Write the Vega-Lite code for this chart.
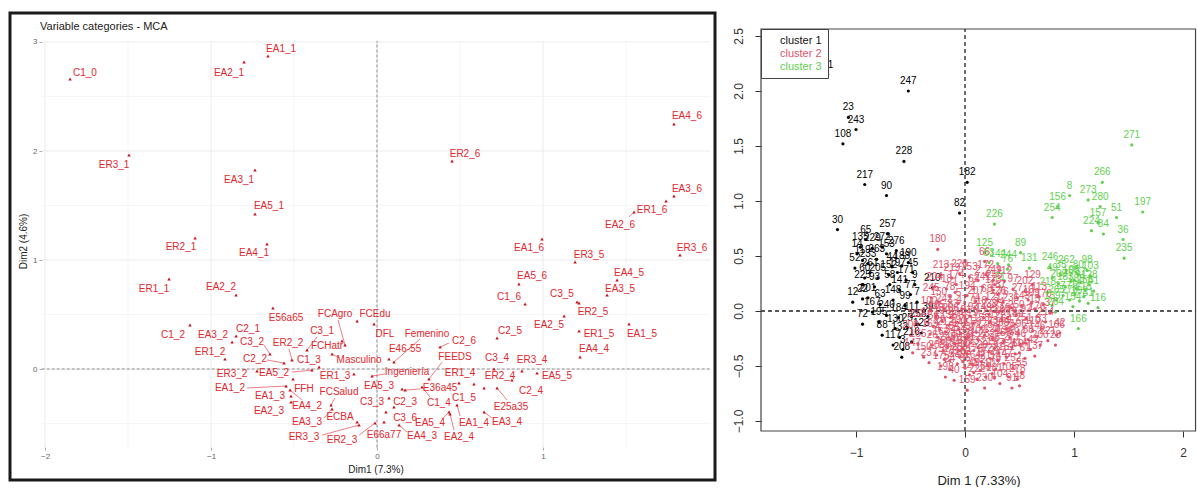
{
  "$schema": "https://vega.github.io/schema/vega-lite/v6.json",
  "background": "white",
  "padding": {"left": 8, "top": 11, "right": 0, "bottom": 0},
  "config": {
    "view": {"stroke": null},
    "font": "Liberation Sans",
    "axis": {"labelFont": "Liberation Sans", "titleFont": "Liberation Sans"},
    "legend": {"labelFont": "Liberation Sans"}
  },
  "spacing": 14,
  "resolve": {"scale": {"color": "independent"}, "legend": {"color": "independent"}},
  "datasets": {
    "gx": [
      {"v": -2, "m": "major"}, {"v": -1, "m": "major"}, {"v": 0, "m": "major"}, {"v": 1, "m": "major"},
      {"v": -1.5, "m": "minor"}, {"v": -0.5, "m": "minor"}, {"v": 0.5, "m": "minor"}, {"v": 1.5, "m": "minor"}
    ],
    "gy": [
      {"v": 0, "m": "major"}, {"v": 1, "m": "major"}, {"v": 2, "m": "major"}, {"v": 3, "m": "major"},
      {"v": -0.5, "m": "minor"}, {"v": 0.5, "m": "minor"}, {"v": 1.5, "m": "minor"}, {"v": 2.5, "m": "minor"}
    ],
    "mca": [
      {"l": "C1_0", "x": -1.849, "y": 2.661, "lx": -1.76, "ly": 2.72},
      {"l": "EA2_1", "x": -0.801, "y": 2.817, "lx": -0.892, "ly": 2.716},
      {"l": "EA1_1", "x": -0.657, "y": 2.872, "lx": -0.578, "ly": 2.936},
      {"l": "ER3_1", "x": -1.494, "y": 1.963, "lx": -1.584, "ly": 1.872},
      {"l": "EA3_1", "x": -0.735, "y": 1.826, "lx": -0.831, "ly": 1.734},
      {"l": "EA5_1", "x": -0.735, "y": 1.422, "lx": -0.651, "ly": 1.495},
      {"l": "ER2_1", "x": -1.096, "y": 1.202, "lx": -1.181, "ly": 1.119},
      {"l": "EA4_1", "x": -0.663, "y": 1.147, "lx": -0.741, "ly": 1.064},
      {"l": "ER1_1", "x": -1.253, "y": 0.826, "lx": -1.343, "ly": 0.734},
      {"l": "EA2_2", "x": -0.849, "y": 0.679, "lx": -0.94, "ly": 0.752},
      {"l": "E56a65", "x": -0.627, "y": 0.56, "lx": -0.548, "ly": 0.468},
      {"l": "C1_2", "x": -1.127, "y": 0.404, "lx": -1.229, "ly": 0.312},
      {"l": "EA3_2", "x": -0.873, "y": 0.248, "lx": -0.988, "ly": 0.312},
      {"l": "C2_1", "x": -0.849, "y": 0.303, "lx": -0.777, "ly": 0.367},
      {"l": "C3_2", "x": -0.645, "y": 0.138, "lx": -0.753, "ly": 0.248, "sx": -0.681, "sy": 0.22},
      {"l": "ER2_2", "x": -0.512, "y": 0.083, "lx": -0.536, "ly": 0.239, "sx": -0.53, "sy": 0.183},
      {"l": "ER1_2", "x": -0.916, "y": 0.092, "lx": -1.006, "ly": 0.156},
      {"l": "C2_2", "x": -0.56, "y": 0.055, "lx": -0.735, "ly": 0.092, "sx": -0.663, "sy": 0.083},
      {"l": "C3_1", "x": -0.422, "y": 0.174, "lx": -0.331, "ly": 0.349, "sx": -0.361, "sy": 0.294},
      {"l": "FCAgro", "x": -0.193, "y": 0.22, "lx": -0.253, "ly": 0.505, "sx": -0.235, "sy": 0.45},
      {"l": "FCEdu", "x": -0.12, "y": 0.44, "lx": -0.012, "ly": 0.505},
      {"l": "FCHatr", "x": -0.211, "y": 0.257, "lx": -0.301, "ly": 0.211},
      {"l": "Masculino", "x": -0.271, "y": 0.138, "lx": -0.108, "ly": 0.083, "sx": -0.229, "sy": 0.101},
      {"l": "DFL", "x": -0.018, "y": 0.413, "lx": 0.048, "ly": 0.321},
      {"l": "Femenino", "x": 0.102, "y": 0.064, "lx": 0.301, "ly": 0.321, "sx": 0.259, "sy": 0.275},
      {"l": "E46-55", "x": 0.072, "y": 0.092, "lx": 0.169, "ly": 0.183},
      {"l": "Ingeniería", "x": -0.03, "y": -0.064, "lx": 0.181, "ly": -0.028, "sx": 0.048, "sy": -0.046},
      {"l": "ER1_3", "x": -0.139, "y": -0.046, "lx": -0.253, "ly": -0.064},
      {"l": "C1_3", "x": -0.349, "y": 0.018, "lx": -0.41, "ly": 0.083},
      {"l": "EA5_2", "x": -0.392, "y": -0.009, "lx": -0.62, "ly": -0.037, "sx": -0.512, "sy": -0.028},
      {"l": "ER3_2", "x": -0.723, "y": -0.018, "lx": -0.873, "ly": -0.046},
      {"l": "EA1_2", "x": -0.548, "y": -0.156, "lx": -0.886, "ly": -0.174, "sx": -0.783, "sy": -0.174},
      {"l": "FFH", "x": -0.506, "y": -0.092, "lx": -0.44, "ly": -0.183},
      {"l": "EA1_3", "x": -0.518, "y": -0.248, "lx": -0.645, "ly": -0.248},
      {"l": "EA4_2", "x": -0.524, "y": -0.193, "lx": -0.422, "ly": -0.339, "sx": -0.452, "sy": -0.284},
      {"l": "EA2_3", "x": -0.518, "y": -0.303, "lx": -0.651, "ly": -0.385},
      {"l": "FCSalud", "x": -0.277, "y": -0.33, "lx": -0.229, "ly": -0.211, "sx": -0.253, "sy": -0.266},
      {"l": "EA3_3", "x": -0.271, "y": -0.367, "lx": -0.422, "ly": -0.486, "sx": -0.319, "sy": -0.45},
      {"l": "ECBA", "x": -0.12, "y": -0.486, "lx": -0.223, "ly": -0.44},
      {"l": "ER3_3", "x": -0.108, "y": -0.514, "lx": -0.44, "ly": -0.624, "sx": -0.331, "sy": -0.606},
      {"l": "ER2_3", "x": -0.012, "y": -0.495, "lx": -0.211, "ly": -0.651, "sx": -0.108, "sy": -0.606},
      {"l": "E66a77", "x": 0.042, "y": -0.486, "lx": 0.042, "ly": -0.606},
      {"l": "C3_6", "x": 0.054, "y": -0.394, "lx": 0.169, "ly": -0.45},
      {"l": "C3_3", "x": 0.072, "y": -0.266, "lx": -0.03, "ly": -0.303},
      {"l": "C2_3", "x": 0.102, "y": -0.349, "lx": 0.169, "ly": -0.303},
      {"l": "EA5_3", "x": 0.151, "y": -0.183, "lx": 0.012, "ly": -0.156},
      {"l": "E36a45", "x": 0.169, "y": -0.193, "lx": 0.38, "ly": -0.174, "sx": 0.259, "sy": -0.183},
      {"l": "C1_4", "x": 0.271, "y": -0.165, "lx": 0.373, "ly": -0.312, "sx": 0.319, "sy": -0.257},
      {"l": "EA4_3", "x": 0.133, "y": -0.514, "lx": 0.271, "ly": -0.615, "sx": 0.181, "sy": -0.578},
      {"l": "EA5_4", "x": 0.434, "y": -0.394, "lx": 0.319, "ly": -0.495, "sx": 0.392, "sy": -0.459},
      {"l": "EA2_4", "x": 0.44, "y": -0.413, "lx": 0.494, "ly": -0.624, "sx": 0.464, "sy": -0.56},
      {"l": "EA1_4", "x": 0.482, "y": -0.33, "lx": 0.584, "ly": -0.495, "sx": 0.5, "sy": -0.431},
      {"l": "ER1_4", "x": 0.494, "y": -0.128, "lx": 0.5, "ly": -0.037},
      {"l": "C1_5", "x": 0.584, "y": -0.138, "lx": 0.524, "ly": -0.266},
      {"l": "C2_6", "x": 0.38, "y": 0.202, "lx": 0.524, "ly": 0.257, "sx": 0.434, "sy": 0.239},
      {"l": "FEEDS", "x": 0.313, "y": -0.092, "lx": 0.47, "ly": 0.11, "sx": 0.392, "sy": 0.064},
      {"l": "EA3_4", "x": 0.645, "y": -0.394, "lx": 0.783, "ly": -0.486, "sx": 0.693, "sy": -0.45},
      {"l": "E25a35", "x": 0.723, "y": -0.174, "lx": 0.807, "ly": -0.349, "sx": 0.783, "sy": -0.284},
      {"l": "C2_4", "x": 0.645, "y": -0.174, "lx": 0.928, "ly": -0.202},
      {"l": "ER2_4", "x": 0.813, "y": -0.101, "lx": 0.741, "ly": -0.064},
      {"l": "C3_4", "x": 0.705, "y": 0.0, "lx": 0.723, "ly": 0.101},
      {"l": "ER3_4", "x": 0.873, "y": -0.018, "lx": 0.934, "ly": 0.083},
      {"l": "EA5_5", "x": 0.964, "y": -0.037, "lx": 1.084, "ly": -0.064},
      {"l": "C2_5", "x": 0.723, "y": 0.284, "lx": 0.801, "ly": 0.349},
      {"l": "EA2_5", "x": 1.127, "y": 0.486, "lx": 1.036, "ly": 0.404},
      {"l": "EA4_4", "x": 1.223, "y": 0.11, "lx": 1.307, "ly": 0.183},
      {"l": "ER1_5", "x": 1.217, "y": 0.349, "lx": 1.337, "ly": 0.321},
      {"l": "EA1_5", "x": 1.518, "y": 0.413, "lx": 1.596, "ly": 0.321},
      {"l": "ER2_5", "x": 1.217, "y": 0.606, "lx": 1.301, "ly": 0.523},
      {"l": "C3_5", "x": 1.205, "y": 0.615, "lx": 1.114, "ly": 0.688},
      {"l": "C1_6", "x": 0.892, "y": 0.596, "lx": 0.795, "ly": 0.661},
      {"l": "EA3_5", "x": 1.386, "y": 0.679, "lx": 1.464, "ly": 0.734},
      {"l": "EA4_5", "x": 1.446, "y": 0.817, "lx": 1.518, "ly": 0.881},
      {"l": "EA5_6", "x": 0.855, "y": 0.78, "lx": 0.934, "ly": 0.853},
      {"l": "ER3_5", "x": 1.193, "y": 0.982, "lx": 1.277, "ly": 1.046},
      {"l": "EA1_6", "x": 0.994, "y": 1.193, "lx": 0.916, "ly": 1.11},
      {"l": "ER3_6", "x": 1.825, "y": 1.046, "lx": 1.898, "ly": 1.11},
      {"l": "EA2_6", "x": 1.548, "y": 1.44, "lx": 1.464, "ly": 1.321, "sx": 1.518, "sy": 1.394},
      {"l": "ER1_6", "x": 1.741, "y": 1.541, "lx": 1.657, "ly": 1.459},
      {"l": "EA3_6", "x": 1.789, "y": 1.587, "lx": 1.867, "ly": 1.651},
      {"l": "EA4_6", "x": 1.789, "y": 2.248, "lx": 1.867, "ly": 2.321},
      {"l": "ER2_6", "x": 0.452, "y": 1.908, "lx": 0.53, "ly": 1.972}
    ],
    "ind": [
      {"x": -1.26, "y": 2.15, "c": 1, "id": "21"},
      {"x": -0.52, "y": 2.0, "c": 1, "id": "247"},
      {"x": -1.07, "y": 1.76, "c": 1, "id": "23"},
      {"x": -1.0, "y": 1.65, "c": 1, "id": "243"},
      {"x": -1.12, "y": 1.52, "c": 1, "id": "108"},
      {"x": -0.56, "y": 1.36, "c": 1, "id": "228"},
      {"x": -0.92, "y": 1.15, "c": 1, "id": "217"},
      {"x": -0.72, "y": 1.05, "c": 1, "id": "90"},
      {"x": 0.02, "y": 1.17, "c": 1, "id": "182"},
      {"x": -0.05, "y": 0.89, "c": 1, "id": "82"},
      {"x": -1.17, "y": 0.74, "c": 1, "id": "30"},
      {"x": -0.71, "y": 0.7, "c": 1, "id": "257"},
      {"x": -0.91, "y": 0.65, "c": 1, "id": "65"},
      {"x": -0.96, "y": 0.58, "c": 1, "id": "135"},
      {"x": -0.85, "y": 0.57, "c": 1, "id": "229"},
      {"x": -0.76, "y": 0.58, "c": 1, "id": "272"},
      {"x": -0.63, "y": 0.55, "c": 1, "id": "276"},
      {"x": -0.72, "y": 0.52, "c": 1, "id": "153"},
      {"x": -0.99, "y": 0.52, "c": 1, "id": "14"},
      {"x": -0.94, "y": 0.46, "c": 1, "id": "119"},
      {"x": -0.89, "y": 0.43, "c": 1, "id": "233"},
      {"x": -0.48, "y": 0.35, "c": 1, "id": "45"},
      {"x": -0.3, "y": 0.21, "c": 1, "id": "210"},
      {"x": -0.58, "y": 0.41, "c": 1, "id": "188"},
      {"x": -1.01, "y": 0.39, "c": 1, "id": "52"},
      {"x": -0.87, "y": 0.35, "c": 1, "id": "261"},
      {"x": -0.62, "y": 0.35, "c": 1, "id": "197"},
      {"x": -0.54, "y": 0.28, "c": 1, "id": "171"},
      {"x": -0.94, "y": 0.24, "c": 1, "id": "225"},
      {"x": -0.83, "y": 0.22, "c": 1, "id": "93"},
      {"x": -0.69, "y": 0.24, "c": 1, "id": "58"},
      {"x": -0.6, "y": 0.19, "c": 1, "id": "141"},
      {"x": -0.5, "y": 0.15, "c": 1, "id": "77"},
      {"x": -1.03, "y": 0.08, "c": 1, "id": "12"},
      {"x": -0.89, "y": 0.12, "c": 1, "id": "201"},
      {"x": -0.78, "y": 0.06, "c": 1, "id": "63"},
      {"x": -0.66, "y": 0.1, "c": 1, "id": "148"},
      {"x": -0.55, "y": 0.05, "c": 1, "id": "99"},
      {"x": -0.44, "y": 0.08, "c": 1, "id": "7"},
      {"x": -0.34, "y": -0.05, "c": 1, "id": "39"},
      {"x": -0.85, "y": -0.01, "c": 1, "id": "167"},
      {"x": -0.72, "y": -0.04, "c": 1, "id": "240"},
      {"x": -0.61, "y": -0.06, "c": 1, "id": "184"},
      {"x": -0.49, "y": -0.05, "c": 1, "id": "111"},
      {"x": -0.94, "y": -0.12, "c": 1, "id": "72"},
      {"x": -0.79, "y": -0.1, "c": 1, "id": "195"},
      {"x": -0.64, "y": -0.16, "c": 1, "id": "130"},
      {"x": -0.53, "y": -0.15, "c": 1, "id": "25"},
      {"x": -0.43, "y": -0.12, "c": 1, "id": "258"},
      {"x": -0.76, "y": -0.22, "c": 1, "id": "88"},
      {"x": -0.6, "y": -0.24, "c": 1, "id": "132"},
      {"x": -0.57, "y": -0.35, "c": 1, "id": "3"},
      {"x": -0.49, "y": -0.28, "c": 1, "id": "216"},
      {"x": -0.66, "y": -0.31, "c": 1, "id": "117"},
      {"x": -0.8, "y": 0.3, "c": 1, "id": "205"},
      {"x": -0.67, "y": 0.4, "c": 1, "id": "44"},
      {"x": -0.52, "y": 0.44, "c": 1, "id": "190"},
      {"x": -0.81, "y": 0.47, "c": 1, "id": "263"},
      {"x": -0.7, "y": 0.33, "c": 1, "id": "152"},
      {"x": -0.46, "y": 0.24, "c": 1, "id": "9"},
      {"x": -0.4, "y": -0.2, "c": 1, "id": "123"},
      {"x": -0.92, "y": 0.3, "c": 1, "id": "60"},
      {"x": -0.58, "y": -0.42, "c": 1, "id": "208"},
      {"x": -0.94, "y": 0.11, "c": 1, "id": "22"},

      {"x": -0.22, "y": 0.33, "c": 2, "id": "213"},
      {"x": -0.12, "y": 0.3, "c": 2, "id": "219"},
      {"x": -0.05, "y": 0.34, "c": 2, "id": "220"},
      {"x": 0.04, "y": 0.31, "c": 2, "id": "253"},
      {"x": 0.12, "y": 0.28, "c": 2, "id": "2"},
      {"x": 0.19, "y": 0.33, "c": 2, "id": "172"},
      {"x": 0.27, "y": 0.24, "c": 2, "id": "255"},
      {"x": 0.36, "y": 0.27, "c": 2, "id": "112"},
      {"x": 0.44, "y": 0.2, "c": 2, "id": "97"},
      {"x": 0.55, "y": 0.18, "c": 2, "id": "202"},
      {"x": 0.62, "y": 0.24, "c": 2, "id": "129"},
      {"x": -0.28, "y": 0.22, "c": 2, "id": "204"},
      {"x": -0.17, "y": 0.2, "c": 2, "id": "18"},
      {"x": -0.08, "y": 0.24, "c": 2, "id": "174"},
      {"x": 0.08, "y": 0.2, "c": 2, "id": "62"},
      {"x": 0.16, "y": 0.22, "c": 2, "id": "241"},
      {"x": 0.3, "y": 0.15, "c": 2, "id": "187"},
      {"x": 0.48, "y": 0.12, "c": 2, "id": "27"},
      {"x": 0.58, "y": 0.1, "c": 2, "id": "10"},
      {"x": 0.68, "y": 0.13, "c": 2, "id": "113"},
      {"x": -0.31, "y": 0.12, "c": 2, "id": "245"},
      {"x": -0.24, "y": 0.08, "c": 2, "id": "150"},
      {"x": -0.14, "y": 0.13, "c": 2, "id": "78"},
      {"x": -0.06, "y": 0.07, "c": 2, "id": "5"},
      {"x": 0.02, "y": 0.14, "c": 2, "id": "194"},
      {"x": 0.1, "y": 0.09, "c": 2, "id": "207"},
      {"x": 0.2, "y": 0.11, "c": 2, "id": "68"},
      {"x": 0.26, "y": 0.04, "c": 2, "id": "121"},
      {"x": 0.35, "y": 0.08, "c": 2, "id": "76"},
      {"x": 0.42, "y": 0.03, "c": 2, "id": "236"},
      {"x": 0.52, "y": 0.05, "c": 2, "id": "143"},
      {"x": 0.64, "y": 0.02, "c": 2, "id": "15"},
      {"x": 0.72, "y": 0.06, "c": 2, "id": "170"},
      {"x": 0.78, "y": -0.02, "c": 2, "id": "37"},
      {"x": -0.33, "y": 0.0, "c": 2, "id": "100"},
      {"x": -0.26, "y": -0.04, "c": 2, "id": "165"},
      {"x": -0.19, "y": 0.02, "c": 2, "id": "242"},
      {"x": -0.11, "y": -0.03, "c": 2, "id": "83"},
      {"x": -0.03, "y": 0.01, "c": 2, "id": "47"},
      {"x": 0.05, "y": -0.05, "c": 2, "id": "193"},
      {"x": 0.13, "y": 0.0, "c": 2, "id": "118"},
      {"x": 0.22, "y": -0.03, "c": 2, "id": "238"},
      {"x": 0.31, "y": -0.01, "c": 2, "id": "34"},
      {"x": 0.39, "y": -0.06, "c": 2, "id": "161"},
      {"x": 0.47, "y": -0.04, "c": 2, "id": "250"},
      {"x": 0.56, "y": -0.07, "c": 2, "id": "92"},
      {"x": 0.66, "y": -0.05, "c": 2, "id": "176"},
      {"x": 0.74, "y": -0.1, "c": 2, "id": "214"},
      {"x": -0.35, "y": -0.1, "c": 2, "id": "13"},
      {"x": -0.29, "y": -0.14, "c": 2, "id": "56"},
      {"x": -0.21, "y": -0.09, "c": 2, "id": "199"},
      {"x": -0.15, "y": -0.13, "c": 2, "id": "138"},
      {"x": -0.08, "y": -0.1, "c": 2, "id": "231"},
      {"x": -0.01, "y": -0.14, "c": 2, "id": "86"},
      {"x": 0.07, "y": -0.11, "c": 2, "id": "19"},
      {"x": 0.15, "y": -0.15, "c": 2, "id": "158"},
      {"x": 0.23, "y": -0.1, "c": 2, "id": "274"},
      {"x": 0.3, "y": -0.13, "c": 2, "id": "122"},
      {"x": 0.38, "y": -0.16, "c": 2, "id": "64"},
      {"x": 0.46, "y": -0.12, "c": 2, "id": "189"},
      {"x": 0.54, "y": -0.15, "c": 2, "id": "251"},
      {"x": 0.62, "y": -0.18, "c": 2, "id": "110"},
      {"x": 0.7, "y": -0.16, "c": 2, "id": "33"},
      {"x": -0.32, "y": -0.21, "c": 2, "id": "169"},
      {"x": -0.25, "y": -0.24, "c": 2, "id": "4"},
      {"x": -0.18, "y": -0.19, "c": 2, "id": "212"},
      {"x": -0.1, "y": -0.23, "c": 2, "id": "94"},
      {"x": -0.04, "y": -0.2, "c": 2, "id": "145"},
      {"x": 0.03, "y": -0.24, "c": 2, "id": "237"},
      {"x": 0.1, "y": -0.19, "c": 2, "id": "50"},
      {"x": 0.18, "y": -0.22, "c": 2, "id": "178"},
      {"x": 0.25, "y": -0.25, "c": 2, "id": "120"},
      {"x": 0.33, "y": -0.2, "c": 2, "id": "268"},
      {"x": 0.41, "y": -0.24, "c": 2, "id": "75"},
      {"x": 0.49, "y": -0.21, "c": 2, "id": "196"},
      {"x": 0.58, "y": -0.26, "c": 2, "id": "38"},
      {"x": 0.66, "y": -0.23, "c": 2, "id": "146"},
      {"x": 0.76, "y": -0.27, "c": 2, "id": "221"},
      {"x": 0.84, "y": -0.22, "c": 2, "id": "106"},
      {"x": -0.3, "y": -0.31, "c": 2, "id": "26"},
      {"x": -0.22, "y": -0.28, "c": 2, "id": "162"},
      {"x": -0.16, "y": -0.33, "c": 2, "id": "248"},
      {"x": -0.09, "y": -0.3, "c": 2, "id": "70"},
      {"x": -0.02, "y": -0.34, "c": 2, "id": "186"},
      {"x": 0.05, "y": -0.29, "c": 2, "id": "11"},
      {"x": 0.12, "y": -0.33, "c": 2, "id": "127"},
      {"x": 0.2, "y": -0.3, "c": 2, "id": "232"},
      {"x": 0.27, "y": -0.34, "c": 2, "id": "85"},
      {"x": 0.35, "y": -0.29, "c": 2, "id": "155"},
      {"x": 0.43, "y": -0.33, "c": 2, "id": "277"},
      {"x": 0.51, "y": -0.3, "c": 2, "id": "46"},
      {"x": 0.6, "y": -0.35, "c": 2, "id": "142"},
      {"x": 0.69, "y": -0.31, "c": 2, "id": "200"},
      {"x": 0.83, "y": -0.31, "c": 2, "id": "28"},
      {"x": -0.26, "y": -0.4, "c": 2, "id": "203"},
      {"x": -0.19, "y": -0.44, "c": 2, "id": "57"},
      {"x": -0.12, "y": -0.38, "c": 2, "id": "134"},
      {"x": -0.05, "y": -0.42, "c": 2, "id": "269"},
      {"x": 0.02, "y": -0.39, "c": 2, "id": "101"},
      {"x": 0.09, "y": -0.44, "c": 2, "id": "179"},
      {"x": 0.16, "y": -0.4, "c": 2, "id": "20"},
      {"x": 0.23, "y": -0.43, "c": 2, "id": "223"},
      {"x": 0.31, "y": -0.38, "c": 2, "id": "87"},
      {"x": 0.38, "y": -0.42, "c": 2, "id": "151"},
      {"x": 0.46, "y": -0.39, "c": 2, "id": "260"},
      {"x": 0.55, "y": -0.43, "c": 2, "id": "61"},
      {"x": 0.64, "y": -0.41, "c": 2, "id": "137"},
      {"x": -0.22, "y": -0.5, "c": 2, "id": "175"},
      {"x": -0.14, "y": -0.53, "c": 2, "id": "24"},
      {"x": -0.07, "y": -0.48, "c": 2, "id": "239"},
      {"x": 0.0, "y": -0.52, "c": 2, "id": "96"},
      {"x": 0.07, "y": -0.49, "c": 2, "id": "164"},
      {"x": 0.14, "y": -0.54, "c": 2, "id": "32"},
      {"x": 0.21, "y": -0.5, "c": 2, "id": "211"},
      {"x": 0.28, "y": -0.53, "c": 2, "id": "79"},
      {"x": 0.36, "y": -0.48, "c": 2, "id": "147"},
      {"x": 0.44, "y": -0.52, "c": 2, "id": "252"},
      {"x": 0.52, "y": -0.56, "c": 2, "id": "55"},
      {"x": -0.18, "y": -0.6, "c": 2, "id": "198"},
      {"x": -0.1, "y": -0.63, "c": 2, "id": "40"},
      {"x": 0.04, "y": -0.58, "c": 2, "id": "124"},
      {"x": 0.11, "y": -0.62, "c": 2, "id": "222"},
      {"x": 0.19, "y": -0.6, "c": 2, "id": "69"},
      {"x": 0.27, "y": -0.61, "c": 2, "id": "181"},
      {"x": 0.4, "y": -0.6, "c": 2, "id": "105"},
      {"x": 0.48, "y": -0.62, "c": 2, "id": "278"},
      {"x": 0.32, "y": -0.66, "c": 2, "id": "104"},
      {"x": 0.02, "y": -0.72, "c": 2, "id": "159"},
      {"x": 0.18, "y": -0.7, "c": 2, "id": "230"},
      {"x": 0.43, "y": -0.7, "c": 2, "id": "91"},
      {"x": 0.5, "y": -0.68, "c": 2, "id": "48"},
      {"x": -0.27, "y": -0.06, "c": 2, "id": "140"},
      {"x": -0.13, "y": -0.06, "c": 2, "id": "206"},
      {"x": 0.01, "y": -0.08, "c": 2, "id": "81"},
      {"x": 0.17, "y": -0.06, "c": 2, "id": "149"},
      {"x": 0.34, "y": -0.08, "c": 2, "id": "267"},
      {"x": -0.23, "y": -0.17, "c": 2, "id": "29"},
      {"x": -0.06, "y": -0.17, "c": 2, "id": "191"},
      {"x": 0.12, "y": -0.26, "c": 2, "id": "102"},
      {"x": 0.28, "y": -0.18, "c": 2, "id": "234"},
      {"x": -0.13, "y": -0.26, "c": 2, "id": "54"},
      {"x": 0.0, "y": -0.28, "c": 2, "id": "168"},
      {"x": 0.22, "y": -0.37, "c": 2, "id": "215"},
      {"x": 0.08, "y": -0.36, "c": 2, "id": "73"},
      {"x": -0.05, "y": -0.36, "c": 2, "id": "133"},
      {"x": -0.2, "y": -0.36, "c": 2, "id": "259"},
      {"x": 0.15, "y": -0.46, "c": 2, "id": "17"},
      {"x": -0.02, "y": -0.46, "c": 2, "id": "163"},
      {"x": 0.3, "y": -0.45, "c": 2, "id": "227"},
      {"x": 0.25, "y": -0.57, "c": 2, "id": "107"},
      {"x": 0.08, "y": -0.56, "c": 2, "id": "43"},
      {"x": -0.14, "y": -0.45, "c": 2, "id": "275"},
      {"x": 0.36, "y": -0.27, "c": 2, "id": "136"},
      {"x": 0.45, "y": -0.28, "c": 2, "id": "59"},
      {"x": 0.5, "y": -0.38, "c": 2, "id": "114"},
      {"x": 0.4, "y": -0.1, "c": 2, "id": "279"},
      {"x": 0.09, "y": 0.03, "c": 2, "id": "74"},
      {"x": -0.09, "y": 0.17, "c": 2, "id": "1"},
      {"x": 0.26, "y": 0.19, "c": 2, "id": "173"},
      {"x": -0.45, "y": -0.12, "c": 2, "id": "232"},
      {"x": -0.5, "y": -0.22, "c": 2, "id": "200"},
      {"x": -0.43, "y": -0.3, "c": 2, "id": "165"},
      {"x": -0.48, "y": -0.38, "c": 2, "id": "147"},
      {"x": -0.38, "y": -0.42, "c": 2, "id": "150"},
      {"x": -0.33, "y": -0.47, "c": 2, "id": "237"},
      {"x": -0.25, "y": 0.56, "c": 2, "id": "180"},
      {"x": 0.87, "y": -0.2, "c": 2, "id": "42"},
      {"x": 0.26, "y": 0.28, "c": 2, "id": "249"},
      {"x": 0.18, "y": 0.45, "c": 2, "id": "66"},
      {"x": 0.3, "y": 0.09, "c": 2, "id": "126"},
      {"x": 0.61, "y": 0.07, "c": 2, "id": "109"},

      {"x": 1.53, "y": 1.51, "c": 3, "id": "271"},
      {"x": 1.26, "y": 1.17, "c": 3, "id": "266"},
      {"x": 0.96, "y": 1.05, "c": 3, "id": "8"},
      {"x": 0.85, "y": 0.95, "c": 3, "id": "156"},
      {"x": 1.13, "y": 1.01, "c": 3, "id": "273"},
      {"x": 1.24, "y": 0.95, "c": 3, "id": "280"},
      {"x": 1.63, "y": 0.9, "c": 3, "id": "197"},
      {"x": 1.39, "y": 0.85, "c": 3, "id": "51"},
      {"x": 0.8, "y": 0.85, "c": 3, "id": "254"},
      {"x": 0.27, "y": 0.79, "c": 3, "id": "226"},
      {"x": 1.22, "y": 0.8, "c": 3, "id": "157"},
      {"x": 1.16, "y": 0.73, "c": 3, "id": "224"},
      {"x": 1.27, "y": 0.7, "c": 3, "id": "84"},
      {"x": 1.45, "y": 0.65, "c": 3, "id": "36"},
      {"x": 1.46, "y": 0.48, "c": 3, "id": "235"},
      {"x": 0.18, "y": 0.53, "c": 3, "id": "125"},
      {"x": 0.51, "y": 0.53, "c": 3, "id": "89"},
      {"x": 0.59, "y": 0.39, "c": 3, "id": "131"},
      {"x": 0.78, "y": 0.4, "c": 3, "id": "246"},
      {"x": 1.12, "y": 0.37, "c": 3, "id": "98"},
      {"x": 1.0, "y": 0.28, "c": 3, "id": "95"},
      {"x": 0.32, "y": 0.22, "c": 3, "id": "71"},
      {"x": 0.22, "y": 0.44, "c": 3, "id": "53"},
      {"x": 0.3, "y": 0.43, "c": 3, "id": "144"},
      {"x": 0.4, "y": 0.42, "c": 3, "id": "244"},
      {"x": 0.39, "y": 0.38, "c": 3, "id": "76"},
      {"x": 1.04, "y": -0.16, "c": 3, "id": "166"},
      {"x": 0.83, "y": -0.01, "c": 3, "id": "264"},
      {"x": 1.22, "y": 0.03, "c": 3, "id": "116"},
      {"x": 0.88, "y": 0.33, "c": 3, "id": "35"},
      {"x": 0.93, "y": 0.37, "c": 3, "id": "262"},
      {"x": 0.86, "y": 0.25, "c": 3, "id": "209"},
      {"x": 0.92, "y": 0.22, "c": 3, "id": "183"},
      {"x": 0.97, "y": 0.27, "c": 3, "id": "160"},
      {"x": 1.02, "y": 0.2, "c": 3, "id": "185"},
      {"x": 1.06, "y": 0.26, "c": 3, "id": "67"},
      {"x": 1.1, "y": 0.19, "c": 3, "id": "256"},
      {"x": 1.14, "y": 0.24, "c": 3, "id": "128"},
      {"x": 1.18, "y": 0.18, "c": 3, "id": "41"},
      {"x": 0.9, "y": 0.14, "c": 3, "id": "177"},
      {"x": 0.96, "y": 0.1, "c": 3, "id": "270"},
      {"x": 1.01, "y": 0.15, "c": 3, "id": "6"},
      {"x": 1.05, "y": 0.09, "c": 3, "id": "192"},
      {"x": 1.09, "y": 0.13, "c": 3, "id": "115"},
      {"x": 1.13, "y": 0.07, "c": 3, "id": "31"},
      {"x": 0.99, "y": 0.04, "c": 3, "id": "154"},
      {"x": 0.84, "y": 0.1, "c": 3, "id": "265"},
      {"x": 1.04, "y": 0.33, "c": 3, "id": "80"},
      {"x": 1.15, "y": 0.32, "c": 3, "id": "103"},
      {"x": 0.8, "y": 0.3, "c": 3, "id": "49"},
      {"x": 0.76, "y": 0.17, "c": 3, "id": "218"},
      {"x": 0.8, "y": 0.05, "c": 3, "id": "139"}
    ]
  },
  "hconcat": [
    {
      "width": 705,
      "height": 467,
      "view": {"stroke": "#1a1a1a", "strokeWidth": 3},
      "title": {
        "text": "Variable categories - MCA",
        "anchor": "start",
        "dx": 30,
        "offset": -28,
        "baseline": "alphabetic",
        "fontSize": 11,
        "fontWeight": "normal",
        "color": "#222222",
        "font": "Liberation Sans"
      },
      "layer": [
        {
          "data": {"name": "gx"},
          "transform": [{"filter": "datum.m == 'minor'"}],
          "mark": {"type": "rule", "color": "#f3f3f3", "strokeWidth": 0.8},
          "encoding": {
            "x": {"field": "v", "type": "quantitative", "scale": {"domain": [-2.211, 2.036], "nice": false, "zero": false}},
            "y": {"datum": -0.72, "type": "quantitative", "scale": {"domain": [-1.018, 3.266], "nice": false, "zero": false}},
            "y2": {"datum": 3.01}
          }
        },
        {
          "data": {"name": "gx"},
          "transform": [{"filter": "datum.m == 'major'"}],
          "mark": {"type": "rule", "color": "#ebebeb", "strokeWidth": 1},
          "encoding": {
            "x": {"field": "v", "type": "quantitative", "scale": {"domain": [-2.211, 2.036], "nice": false, "zero": false}},
            "y": {"datum": -0.72, "type": "quantitative", "scale": {"domain": [-1.018, 3.266], "nice": false, "zero": false}},
            "y2": {"datum": 3.01}
          }
        },
        {
          "data": {"name": "gy"},
          "transform": [{"filter": "datum.m == 'minor'"}],
          "mark": {"type": "rule", "color": "#f3f3f3", "strokeWidth": 0.8},
          "encoding": {
            "y": {"field": "v", "type": "quantitative", "scale": {"domain": [-1.018, 3.266], "nice": false, "zero": false}},
            "x": {"datum": -2.02, "type": "quantitative", "scale": {"domain": [-2.211, 2.036], "nice": false, "zero": false}},
            "x2": {"datum": 2.006}
          }
        },
        {
          "data": {"name": "gy"},
          "transform": [{"filter": "datum.m == 'major'"}],
          "mark": {"type": "rule", "color": "#ebebeb", "strokeWidth": 1},
          "encoding": {
            "y": {"field": "v", "type": "quantitative", "scale": {"domain": [-1.018, 3.266], "nice": false, "zero": false}},
            "x": {"datum": -2.02, "type": "quantitative", "scale": {"domain": [-2.211, 2.036], "nice": false, "zero": false}},
            "x2": {"datum": 2.006}
          }
        },
        {
          "data": {"values": [{}]},
          "mark": {"type": "rule", "color": "#666666", "strokeWidth": 0.7, "strokeDash": [3, 2]},
          "encoding": {
            "x": {"datum": 0, "type": "quantitative", "scale": {"domain": [-2.211, 2.036], "nice": false, "zero": false}},
            "y": {"datum": -0.72, "type": "quantitative", "scale": {"domain": [-1.018, 3.266], "nice": false, "zero": false}},
            "y2": {"datum": 3.01}
          }
        },
        {
          "data": {"values": [{}]},
          "mark": {"type": "rule", "color": "#666666", "strokeWidth": 0.7, "strokeDash": [3, 2]},
          "encoding": {
            "y": {"datum": 0, "type": "quantitative", "scale": {"domain": [-1.018, 3.266], "nice": false, "zero": false}},
            "x": {"datum": -2.02, "type": "quantitative", "scale": {"domain": [-2.211, 2.036], "nice": false, "zero": false}},
            "x2": {"datum": 2.006}
          }
        },
        {
          "data": {"name": "mca"},
          "transform": [{"filter": "isValid(datum.sx)"}],
          "mark": {"type": "rule", "color": "#e3262d", "strokeWidth": 0.6},
          "encoding": {
            "x": {"field": "x", "type": "quantitative", "scale": {"domain": [-2.211, 2.036], "nice": false, "zero": false}},
            "y": {"field": "y", "type": "quantitative", "scale": {"domain": [-1.018, 3.266], "nice": false, "zero": false}},
            "x2": {"field": "sx"},
            "y2": {"field": "sy"}
          }
        },
        {
          "data": {"name": "mca"},
          "mark": {"type": "point", "shape": "triangle-up", "filled": true, "size": 12, "color": "#c8141c", "opacity": 1},
          "encoding": {
            "x": {
              "field": "x", "type": "quantitative",
              "scale": {"domain": [-2.211, 2.036], "nice": false, "zero": false},
              "axis": {
                "values": [-2, -1, 0, 1], "format": "d", "offset": -33, "domain": false, "grid": false,
                "tickSize": 3, "tickColor": "#888888", "tickWidth": 0.7,
                "labelFontSize": 8, "labelColor": "#666666", "labelPadding": 2,
                "title": "Dim1 (7.3%)", "titleFontSize": 10, "titleFontWeight": "normal", "titleColor": "#222222",
                "titlePadding": 4, "titleX": 365.5
              }
            },
            "y": {
              "field": "y", "type": "quantitative",
              "scale": {"domain": [-1.018, 3.266], "nice": false, "zero": false},
              "axis": {
                "values": [0, 1, 2, 3], "format": "d", "offset": -32, "domain": false, "grid": false,
                "tickSize": 3, "tickColor": "#888888", "tickWidth": 0.7,
                "labelFontSize": 8, "labelColor": "#666666", "labelPadding": 2,
                "title": "Dim2 (4.6%)", "titleFontSize": 10, "titleFontWeight": "normal", "titleColor": "#222222",
                "titlePadding": 4, "titleY": 228
              }
            }
          }
        },
        {
          "data": {"name": "mca"},
          "mark": {"type": "text", "fontSize": 10, "color": "#e3262d", "align": "center", "baseline": "middle", "font": "Liberation Sans"},
          "encoding": {
            "x": {"field": "lx", "type": "quantitative", "scale": {"domain": [-2.211, 2.036], "nice": false, "zero": false}},
            "y": {"field": "ly", "type": "quantitative", "scale": {"domain": [-1.018, 3.266], "nice": false, "zero": false}},
            "text": {"field": "l"}
          }
        }
      ]
    },
    {
      "width": 435,
      "height": 418,
      "layer": [
        {
          "data": {"values": [{}]},
          "mark": {"type": "rect", "filled": false, "stroke": "#444444", "strokeWidth": 1.2},
          "encoding": {
            "x": {"datum": -1.8716, "type": "quantitative", "scale": {"domain": [-1.8716, 2.1193], "nice": false, "zero": false}},
            "x2": {"datum": 2.115},
            "y": {"datum": -1.0909, "type": "quantitative", "scale": {"domain": [-1.0909, 2.7091], "nice": false, "zero": false}},
            "y2": {"datum": 2.5636}
          }
        },
        {
          "data": {"values": [{}]},
          "mark": {"type": "rule", "color": "#222222", "strokeWidth": 1.3, "strokeDash": [4, 3]},
          "encoding": {
            "x": {"datum": 0, "type": "quantitative", "scale": {"domain": [-1.8716, 2.1193], "nice": false, "zero": false}},
            "y": {"datum": -1.0909, "type": "quantitative", "scale": {"domain": [-1.0909, 2.7091], "nice": false, "zero": false}},
            "y2": {"datum": 2.5636}
          }
        },
        {
          "data": {"values": [{}]},
          "mark": {"type": "rule", "color": "#222222", "strokeWidth": 1.3, "strokeDash": [4, 3]},
          "encoding": {
            "y": {"datum": 0, "type": "quantitative", "scale": {"domain": [-1.0909, 2.7091], "nice": false, "zero": false}},
            "x": {"datum": -1.8716, "type": "quantitative", "scale": {"domain": [-1.8716, 2.1193], "nice": false, "zero": false}},
            "x2": {"datum": 2.115}
          }
        },
        {
          "data": {"name": "ind"},
          "mark": {"type": "circle", "size": 10, "opacity": 1},
          "encoding": {
            "x": {
              "field": "x", "type": "quantitative",
              "scale": {"domain": [-1.8716, 2.1193], "nice": false, "zero": false},
              "axis": {
                "values": [-1, 0, 1, 2], "format": "d", "domain": false, "grid": false,
                "tickSize": 6, "tickColor": "#333333", "tickWidth": 1,
                "labelFontSize": 12, "labelColor": "#333333", "labelPadding": 10,
                "title": "Dim 1 (7.33%)", "titleFontSize": 13, "titleFontWeight": "normal", "titleColor": "#222222",
                "titlePadding": 16
              }
            },
            "y": {
              "field": "y", "type": "quantitative",
              "scale": {"domain": [-1.0909, 2.7091], "nice": false, "zero": false},
              "axis": {
                "values": [-1, -0.5, 0, 0.5, 1, 1.5, 2, 2.5], "format": ".1f", "domain": false, "grid": false,
                "tickSize": 6, "tickColor": "#333333", "tickWidth": 1,
                "labelAngle": -90, "labelAlign": "center", "labelBaseline": "bottom",
                "labelFontSize": 12, "labelColor": "#333333", "labelPadding": 10,
                "title": null
              }
            },
            "color": {
              "field": "c", "type": "nominal",
              "scale": {"domain": [1, 2, 3], "range": ["#000000", "#DF536B", "#61D04F"]},
              "legend": {
                "orient": "none", "legendX": 0, "legendY": 16,
                "title": null,
                "labelExpr": "'cluster ' + datum.label",
                "labelColor": {"expr": "datum.value == 1 ? '#111111' : datum.value == 2 ? '#DF536B' : '#61D04F'"},
                "labelFontSize": 11, "labelFont": "Liberation Sans",
                "symbolOpacity": 0, "symbolSize": 0, "symbolStrokeWidth": 0,
                "labelOffset": 2, "padding": 6, "rowPadding": 1,
                "fillColor": "white", "strokeColor": "#444444", "cornerRadius": 0
              }
            }
          }
        },
        {
          "data": {"name": "ind"},
          "mark": {"type": "text", "fontSize": 10, "dy": -7, "baseline": "alphabetic", "align": "center", "font": "Liberation Sans"},
          "encoding": {
            "x": {"field": "x", "type": "quantitative", "scale": {"domain": [-1.8716, 2.1193], "nice": false, "zero": false}},
            "y": {"field": "y", "type": "quantitative", "scale": {"domain": [-1.0909, 2.7091], "nice": false, "zero": false}},
            "text": {"field": "id"},
            "color": {"field": "c", "type": "nominal", "scale": {"domain": [1, 2, 3], "range": ["#000000", "#DF536B", "#61D04F"]}}
          }
        }
      ]
    }
  ]
}
